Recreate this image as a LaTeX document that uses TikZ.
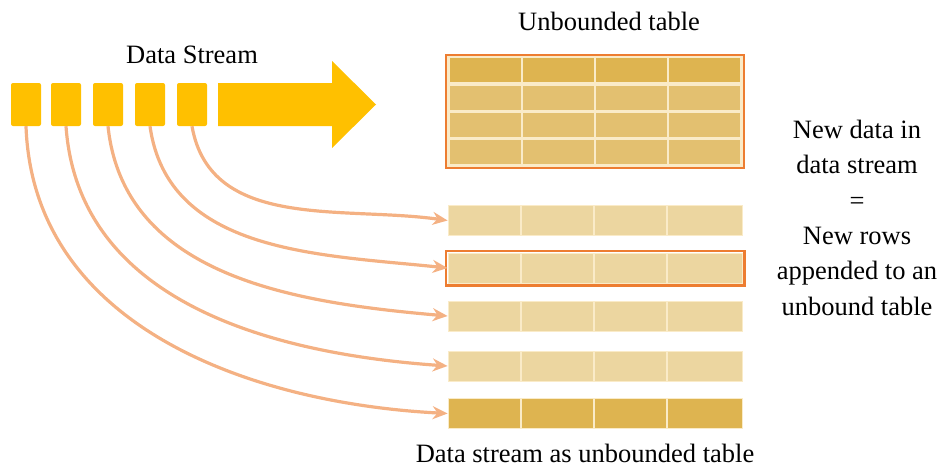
\documentclass[tikz,border=0pt]{standalone}
\usepackage{fontspec}
\setmainfont{Liberation Serif}
\usetikzlibrary{arrows.meta}

\definecolor{gold}{HTML}{FFC000}
\definecolor{peach}{HTML}{F4B183}
\definecolor{rim}{HTML}{ED7D31}
\definecolor{headfill}{HTML}{DEB450}
\definecolor{rowfill}{HTML}{E3C070}
\definecolor{newfill}{HTML}{ECD6A0}
\definecolor{cream}{HTML}{FAEBC8}

\tikzset{
  txt/.style={font=\fontsize{26.5}{35.3}\selectfont, inner sep=0pt},
  event/.style={fill=gold, rounded corners=2pt, minimum width=30pt, minimum height=43pt, inner sep=0pt},
  cells/.style={inner sep=0pt, minimum width=#1, draw=cream, line width=0.8pt,
    path picture={
      \draw[cream, line width=1.5pt] ([xshift=73pt]path picture bounding box.north west) -- ([xshift=73pt]path picture bounding box.south west);
      \draw[cream, line width=1.5pt] ([xshift=146pt]path picture bounding box.north west) -- ([xshift=146pt]path picture bounding box.south west);
      \draw[cream, line width=1.5pt] ([xshift=219pt]path picture bounding box.north west) -- ([xshift=219pt]path picture bounding box.south west);
    }},
  newrow/.style={cells=294pt, fill=newfill, minimum height=30pt},
  hl/.style={draw=rim, line width=2.2pt},
  flow/.style={draw=peach, line width=3.2pt, -{Stealth[length=15pt, width=13pt]}, looseness=1}
}

\begin{document}
\begin{tikzpicture}[x=1pt, y=1pt]
\useasboundingbox (0,0) rectangle (942,-466);

% stream of events
\node[txt, anchor=base] (dstitle) at (192,-63) {Data Stream};
\node[event] (s1) at (26,-104.5) {};
\node[event] (s2) at (66,-104.5) {};
\node[event] (s3) at (108,-104.5) {};
\node[event] (s4) at (150,-104.5) {};
\node[event] (s5) at (192,-104.5) {};
\fill[gold] (218,-83) -- (332,-83) -- (332,-61) -- (376,-104.5) -- (332,-148) -- (332,-126) -- (218,-126) -- cycle;

% unbounded table
\node[txt, anchor=base] (tbltitle) at (609,-30) {Unbounded table};
\node[hl, fill=cream, minimum width=298pt, minimum height=113pt, inner sep=0pt] (tbl) at (595,-111.5) {};
\node[cells=291pt, fill=headfill, minimum height=25pt] (h) at (594.5,-69.5) {};
\node[cells=291pt, fill=rowfill, minimum height=25pt] (ra) at (594.5,-97.5) {};
\node[cells=291pt, fill=rowfill, minimum height=25pt] (rb) at (594.5,-124.5) {};
\node[cells=291pt, fill=rowfill, minimum height=25pt] (rc) at (594.5,-152) {};

% appended rows
\node[newrow] (r1) at (595,-220.5) {};
\node[newrow] (r2) at (595,-268) {};
\node[newrow] (r3) at (595,-316) {};
\node[newrow] (r4) at (595,-366) {};
\node[newrow, fill=headfill] (r5) at (595,-413.5) {};
\draw[hl] ([shift={(-2pt,2pt)}]r2.north west) rectangle ([shift={(2pt,-2pt)}]r2.south east);
\node[txt, anchor=base] (caption) at (585,-462) {Data stream as unbounded table};

\draw[flow] (s5.south) to[out=-80, in=172] (r1.west);
\draw[flow] (s4.south) to[out=-82, in=174] (r2.west);
\draw[flow] (s3.south) to[out=-84, in=175] (r3.west);
\draw[flow] (s2.south) to[out=-86, in=176] (r4.west);
\draw[flow] (s1.south) to[out=-88, in=177] (r5.west);

\node[txt, align=center, anchor=base] (note) at (857,-315) {New data in\\data stream\\=\\New rows\\appended to an\\unbound table};
\end{tikzpicture}
\end{document}
